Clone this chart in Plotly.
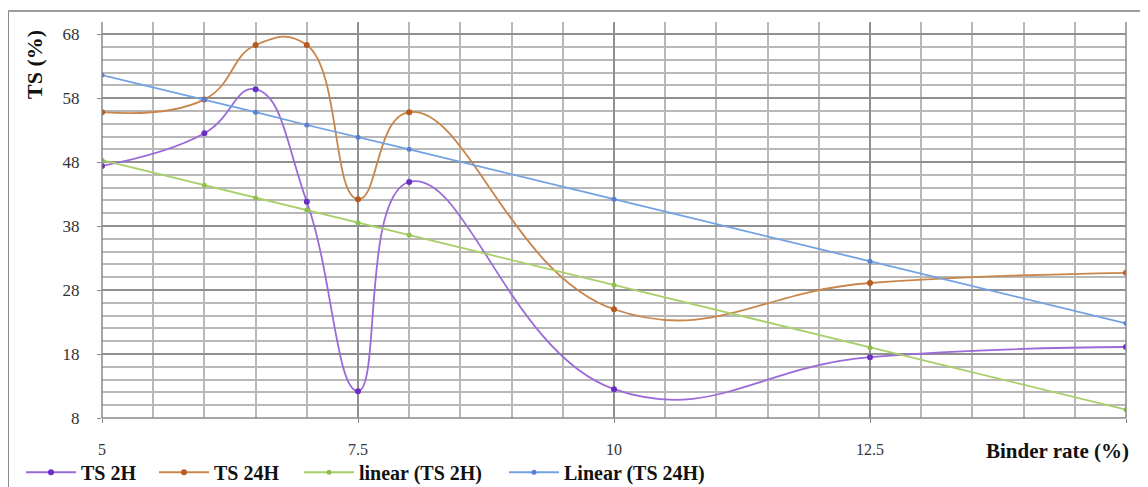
import plotly.graph_objects as go

binder_rate = [5, 6, 6.5, 7, 7.5, 8, 10, 12.5, 15]
ts_2h = [47.4, 52.5, 59.4, 41.8, 12.2, 44.9, 12.5, 17.5, 19.1]
ts_24h = [55.8, 57.8, 66.3, 66.3, 42.2, 55.8, 25.0, 29.1, 30.7]
linear_ts_2h = [48.3, 44.4, 42.4, 40.5, 38.5, 36.6, 28.8, 19.0, 9.3]
linear_ts_24h = [61.6, 57.8, 55.8, 53.8, 51.9, 50.0, 42.2, 32.5, 22.8]

x_tick_vals = [5, 7.5, 10, 12.5, 15]
x_tick_text = ["5", "7.5", "10", "12.5", ""]

SERIF = "Liberation Serif"

fig = go.Figure()

fig.add_trace(go.Scatter(
    x=binder_rate, y=ts_2h, name="<b>TS 2H</b>", mode="lines+markers", legendwidth=68,
    line=dict(color="#9a6ad8", width=1.8, shape="spline", smoothing=1.3),
    marker=dict(color="#6a2ec4", size=6)))
fig.add_trace(go.Scatter(
    x=binder_rate, y=ts_24h, name="<b>TS 24H</b>", mode="lines+markers", legendwidth=80,
    line=dict(color="#c8864c", width=1.8, shape="spline", smoothing=1.3),
    marker=dict(color="#b65a1e", size=6)))
fig.add_trace(go.Scatter(
    x=binder_rate, y=linear_ts_2h, name="<b>linear (TS 2H)</b>", mode="lines+markers",
    legendwidth=140,
    line=dict(color="#a8cf6a", width=1.8),
    marker=dict(color="#8fbf4c", size=5)))
fig.add_trace(go.Scatter(
    x=binder_rate, y=linear_ts_24h, name="<b>Linear (TS 24H)</b>", mode="lines+markers",
    line=dict(color="#72a2e2", width=1.8),
    marker=dict(color="#5a7ed4", size=5)))

# page body has an 8px margin, so the figure is sized/positioned to compensate
fig.update_layout(
    width=1140, height=479,
    margin=dict(l=94, r=22, t=14, b=69, autoexpand=False),
    paper_bgcolor="white", plot_bgcolor="white",
    font=dict(family=SERIF, color="#333333"),
    showlegend=True,
    legend=dict(orientation="h", x=-0.0791, y=-0.137, xanchor="left", yanchor="middle",
                font=dict(family=SERIF, size=20, color="#111111"),
                bgcolor="rgba(0,0,0,0)", itemwidth=50, tracegroupgap=0),
    xaxis=dict(range=[5, 15], tickmode="array", tickvals=x_tick_vals, ticktext=x_tick_text,
               showgrid=True, gridcolor="#909090", gridwidth=1.5,
               minor=dict(dtick=0.5, tick0=5, showgrid=True, gridcolor="#b8b8b8", gridwidth=1.5),
               ticks="outside", ticklen=4, tickcolor="#888888",
               ticklabelstandoff=13,
               tickfont=dict(family=SERIF, size=16, color="#333333"),
               showline=False, zeroline=False, fixedrange=True),
    yaxis=dict(range=[8, 69.9], tickmode="linear", tick0=8, dtick=10,
               showgrid=True, gridcolor="#909090", gridwidth=1.5,
               minor=dict(dtick=2, tick0=8, showgrid=True, gridcolor="#b8b8b8", gridwidth=1.5),
               ticks="outside", ticklen=4, tickcolor="#888888",
               ticklabelstandoff=14,
               tickfont=dict(family=SERIF, size=17, color="#333333"),
               showline=False, zeroline=False, fixedrange=True),
)

# axis lines (left, right, bottom) in gray
for (x0, x1, y0, y1) in [(0, 0, 0, 1), (1, 1, 0, 1), (0, 1, 0, 0)]:
    fig.add_shape(type="line", xref="paper", yref="paper", x0=x0, x1=x1, y0=y0, y1=y1,
                  line=dict(color="#8a8a8a", width=1.5))

# outer frame (left and top edges)
fig.add_shape(type="line", xref="paper", yref="paper", x0=-0.0918, x1=-0.0918, y0=-0.2, y1=1.028,
              line=dict(color="#8c8c8c", width=2))
fig.add_shape(type="line", xref="paper", yref="paper", x0=-0.0918, x1=1.05, y0=1.028, y1=1.028,
              line=dict(color="#9c9c9c", width=2))

fig.add_annotation(text="<b>TS (%)</b>", xref="paper", yref="paper",
                   x=(35 - 102) / 1024, y=(418 - 65) / 396, textangle=-90,
                   xanchor="center", yanchor="middle",
                   showarrow=False, font=dict(family=SERIF, size=22, color="#111111"))
fig.add_annotation(text="<b>Binder rate (%)</b>", xref="paper", yref="paper",
                   x=(1057 - 102) / 1024, y=(418 - 451) / 396,
                   xanchor="center", yanchor="middle",
                   showarrow=False, font=dict(family=SERIF, size=21, color="#111111"))

fig.write_html("out.html")
